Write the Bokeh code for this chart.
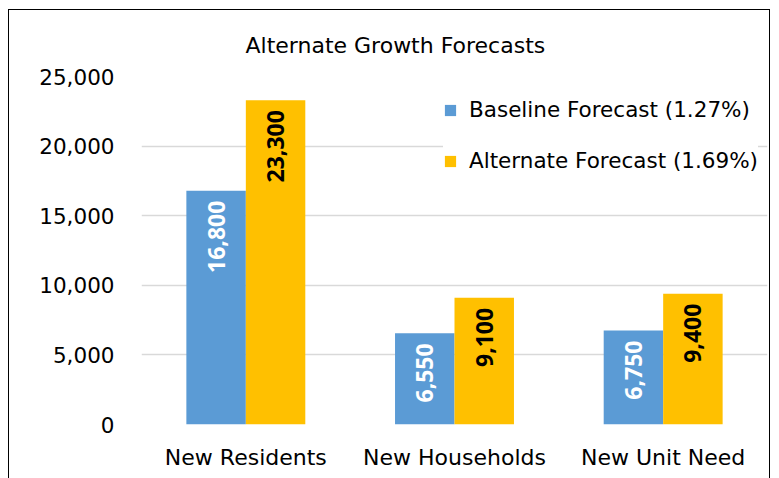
from bokeh.plotting import figure
from bokeh.models import ColumnDataSource, FixedTicker, NumeralTickFormatter, Range1d, FactorRange
from bokeh.transform import dodge
from bokeh.embed import file_html
from bokeh.resources import INLINE
from bokeh.core.properties import value

categories = ["New Residents", "New Households", "New Unit Need"]
baseline = [16800, 6550, 6750]
alternate = [23300, 9100, 9400]
series_names = ["Baseline Forecast (1.27%)", "Alternate Forecast (1.69%)"]
y_ticks = [0, 5000, 10000, 15000, 20000, 25000]

FONT = "DejaVu Sans"
LBL_FONT = "Open Sans"
BLUE = "#5B9BD5"
GOLD = "#FFC000"

src = ColumnDataSource(dict(
    cat=categories,
    base=baseline,
    alt=alternate,
    base_lbl=[f"{v:,}" for v in baseline],
    alt_lbl=[f"{v:,}" for v in alternate],
))

p = figure(
    width=762, height=469,
    x_range=FactorRange(*categories, range_padding=0),
    y_range=Range1d(0, 25000),
    output_backend="svg", toolbar_location=None,
    min_border_left=132, min_border_right=4, min_border_top=66, min_border_bottom=55,
    styles={"margin-left": "8px", "margin-top": "9px",
            "border-top": "1.5px solid #000", "border-left": "1.5px solid #000",
            "border-right": "1.5px solid #000"},
)
p.outline_line_color = None

p.title.text = "Alternate Growth Forecasts"
p.title.align = "left"
p.title.offset = 104
p.title.text_font = FONT
p.title.text_font_size = "22px"
p.title.text_font_style = "normal"
p.title.text_color = "#000"
p.title.standoff = 38

W = 0.285
p.vbar(x=dodge("cat", -W / 2, range=p.x_range), top="base", width=W, source=src,
       fill_color=BLUE, line_color=None, legend_label=series_names[0])
p.vbar(x=dodge("cat", W / 2, range=p.x_range), top="alt", width=W, source=src,
       fill_color=GOLD, line_color=None, legend_label=series_names[1])

p.text(x=dodge("cat", -W / 2, range=p.x_range), y="base", text="base_lbl", source=src,
       angle=1.5708, text_align="right", text_baseline="middle", y_offset=10,
       text_font=value(LBL_FONT), text_font_size="23px", text_font_style="bold",
       text_color="white")
p.text(x=dodge("cat", W / 2, range=p.x_range), y="alt", text="alt_lbl", source=src,
       angle=1.5708, text_align="right", text_baseline="middle", y_offset=10,
       text_font=value(LBL_FONT), text_font_size="23px", text_font_style="bold",
       text_color="black")

p.xgrid.grid_line_color = None
p.ygrid.grid_line_color = "#D9D9D9"
p.ygrid.grid_line_width = 1.5

p.yaxis.ticker = FixedTicker(ticks=y_ticks)
p.yaxis.formatter = NumeralTickFormatter(format="0,0")
p.yaxis.axis_line_color = None
p.yaxis.major_tick_line_color = None
p.yaxis.minor_tick_line_color = None
p.yaxis.major_label_standoff = 21
p.yaxis.major_label_text_font = FONT
p.yaxis.major_label_text_font_size = "21.5px"
p.yaxis.major_label_text_color = "#000"

p.xaxis.axis_line_color = None
p.xaxis.major_tick_line_color = None
p.xaxis.minor_tick_line_color = None
p.xaxis.major_label_standoff = 14
p.xaxis.major_label_text_font = FONT
p.xaxis.major_label_text_font_size = "22px"
p.xaxis.major_label_text_color = "#000"

lg = p.legend[0]
lg.location = (302, 251)
lg.margin = 0
lg.padding = 0
lg.border_line_color = None
lg.background_fill_color = "white"
lg.background_fill_alpha = 1
lg.glyph_width = 14
lg.glyph_height = 14
lg.label_standoff = 12
lg.spacing = 26
lg.label_text_font = FONT
lg.label_text_font_size = "21.5px"
lg.label_text_color = "#000"

open("out.html", "w").write(file_html(p, INLINE))
